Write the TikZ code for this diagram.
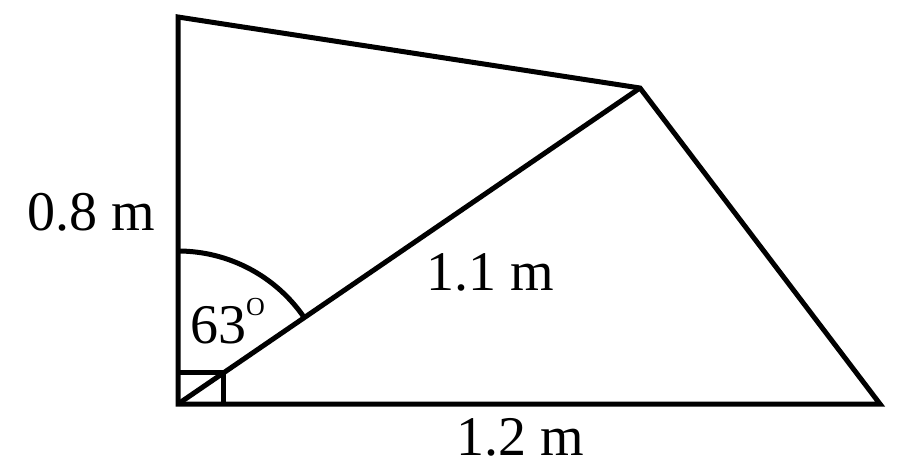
\documentclass[tikz,border=0pt]{standalone}
\usepackage{fontspec}
\setmainfont{Liberation Serif}
\begin{document}
\begin{tikzpicture}[x=1pt,y=-1pt,
  edge/.style={line width=5pt,line join=miter,line cap=butt},
  lbl/.style={font=\fontsize{56}{66}\selectfont,inner sep=0pt,anchor=base west}]
\useasboundingbox (0,0) rectangle (897,469);
\coordinate (O) at (178,404);
\coordinate (T) at (178,17);
\coordinate (A) at (640,88);
\coordinate (R) at (880,404);
\coordinate (B1) at (178,372);
\coordinate (B2) at (223,372);
\coordinate (B3) at (223,404);
\coordinate (C1) at (178,251);
\draw[edge] (O) -- (T) -- (A) -- (R) -- cycle;
\draw[edge] (O) -- (A);
\draw[edge] (B1) -- (B2) -- (B3);
\draw[edge] (C1) arc[start angle=-90,end angle=-34.4,radius=153];
\node[lbl] (l08) at (27,230) {0.8 m};
\node[lbl] (l11) at (426,290) {1.1 m};
\node[lbl] (l12) at (456,455) {1.2 m};
\node[lbl] (l63) at (190,343) {63\raisebox{0.5em}{\fontsize{26}{28}\selectfont O}};
\end{tikzpicture}
\end{document}
